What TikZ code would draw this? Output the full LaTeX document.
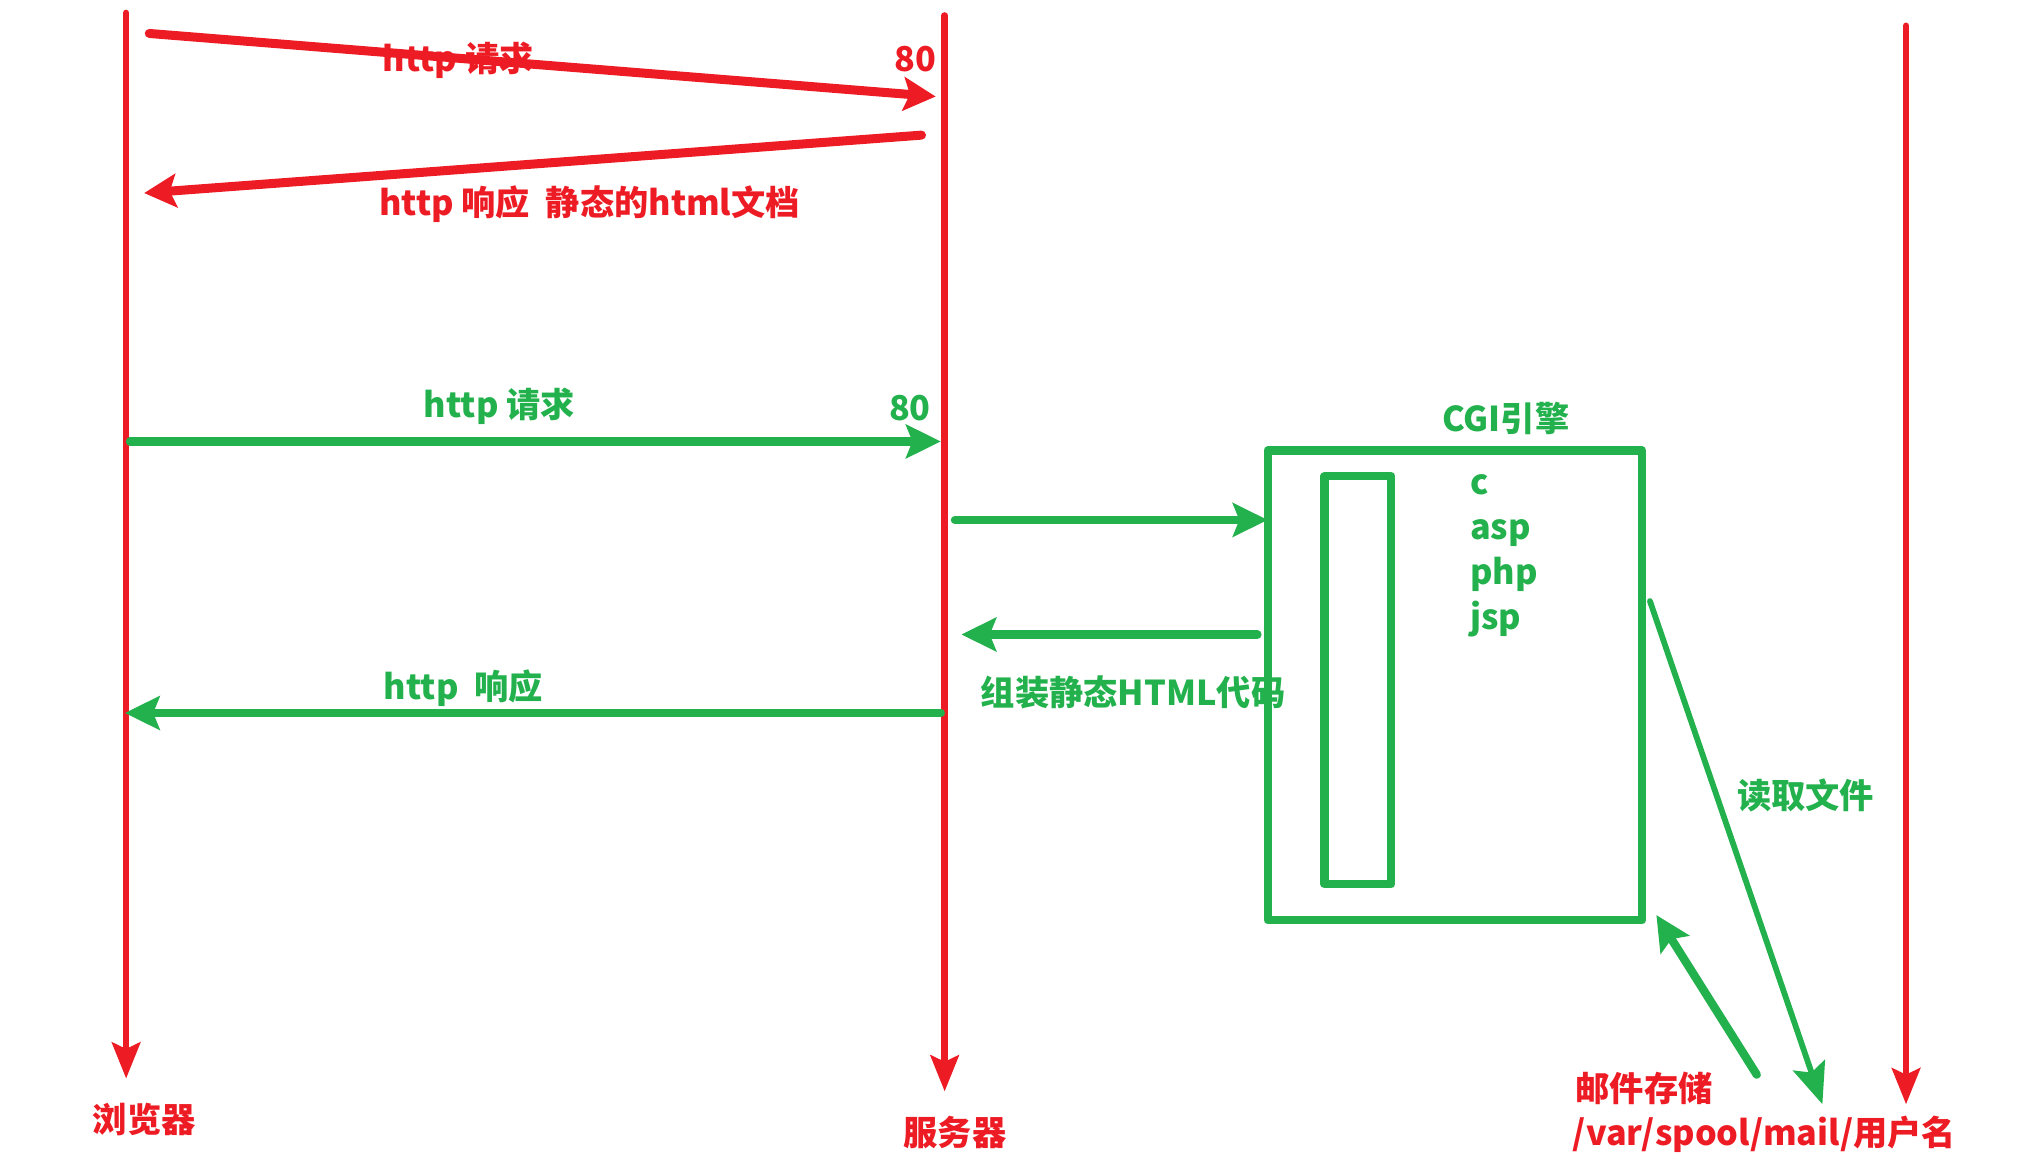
\documentclass[tikz,border=0pt]{standalone}
\usepackage{fontspec}
\setmainfont{Noto Sans CJK SC}
\usetikzlibrary{arrows.meta}
\definecolor{pred}{RGB}{237,28,36}
\definecolor{pgreen}{RGB}{34,177,76}
\begin{document}
\begin{tikzpicture}[x=1pt,y=-1pt,
  lbl/.style={font=\fontsize{26.6}{32}\selectfont\bfseries, inner sep=0pt},
  rlbl/.style={lbl, text=pred},
  glbl/.style={lbl, text=pgreen},
  lifeline/.style={draw=pred, line width=5pt, line cap=round, -{Stealth[length=28pt,width=22pt,inset=5pt]}},
  redarr/.style={draw=pred, line width=7pt, line cap=round, -{Stealth[length=25pt,width=26pt,inset=5pt]}},
  grarr/.style={draw=pgreen, line width=6.5pt, line cap=round, -{Stealth[length=27pt,width=26pt,inset=5pt]}},
  thinarr/.style={draw=pgreen, line width=4.5pt, line cap=round, -{Stealth[length=32pt,width=26pt,inset=6pt]}},
  boxst/.style={draw=pgreen, line width=6.5pt, line join=round, inner sep=0pt, outer sep=0pt}]
\useasboundingbox (0,0) rectangle (1568,910);

% lifelines
\coordinate (bTop) at (98,10);   \coordinate (bBot) at (98,838);
\coordinate (sTop) at (734,12);  \coordinate (sBot) at (734,848);
\coordinate (mTop) at (1481,20); \coordinate (mBot) at (1481,858);
\draw[lifeline] (bTop) -- (bBot);
\draw[lifeline] (sTop) -- (sBot);
\draw[lifeline] (mTop) -- (mBot);

% red exchange
\coordinate (r1s) at (116,26);  \coordinate (r1e) at (727,75);
\coordinate (r2s) at (716,105); \coordinate (r2e) at (112,150);
\draw[redarr] (r1s) -- (r1e);
\draw[redarr] (r2s) -- (r2e);
\node[rlbl] (lreq1) at (356,47) {http 请求};
\node[rlbl] (lp1) at (711,46) {80};
\node[rlbl] (lresp1) at (458,159) {http 响应\ \ 静态的html文档};

% green exchange
\coordinate (g1s) at (101,343); \coordinate (g1e) at (731,343);
\coordinate (g2s) at (731,554); \coordinate (g2e) at (97,554);
\draw[grarr] (g1s) -- (g1e);
\draw[grarr] (g2s) -- (g2e);
\node[glbl] (lreq2) at (388,316) {http 请求};
\node[glbl] (lp2) at (707,317) {80};
\node[glbl] (lresp2) at (360,535) {http\ \ 响应};

% CGI box
\node[boxst, minimum width=291pt, minimum height=365pt] (cgi) at (1130.5,532.5) {};
\node[boxst, minimum width=52pt, minimum height=317pt] (inner) at (1055,528.5) {};
\node[glbl] (cgit) at (1170,325) {CGI引擎};
\node[glbl, anchor=base west] (lc) at (1142,384) {c};
\node[glbl, anchor=base west] (lasp) at (1142,419) {asp};
\node[glbl, anchor=base west] (lphp) at (1142,454) {php};
\node[glbl, anchor=base west] (ljsp) at (1142,489) {jsp};

\coordinate (c1s) at (742,404);
\coordinate (c2s) at (977,493); \coordinate (c2e) at (747,493);
\draw[grarr] (c1s) -- (c1s -| cgi.west);
\draw[grarr] (c2s) -- (c2e);
\node[glbl, anchor=west] (lasm) at (762,538) {组装静态HTML代码};

% mail storage
\coordinate (f1s) at (1282,467); \coordinate (mail) at (1416,858);
\coordinate (f2s) at (1365,835); \coordinate (f2e) at (1287,711);
\draw[thinarr] (f1s) -- (mail);
\draw[grarr] (f2s) -- (f2e);
\node[glbl] (lread) at (1403,618) {读取文件};
\node[rlbl, anchor=west] (lstore) at (1224,846) {邮件存储};
\node[rlbl, anchor=west] (lpath) at (1222,881) {/var/spool/mail/用户名};

% bottom labels
\node[rlbl] (lbrowser) at (112,870) {浏览器};
\node[rlbl] (lserver) at (742,880) {服务器};
\end{tikzpicture}
\end{document}
